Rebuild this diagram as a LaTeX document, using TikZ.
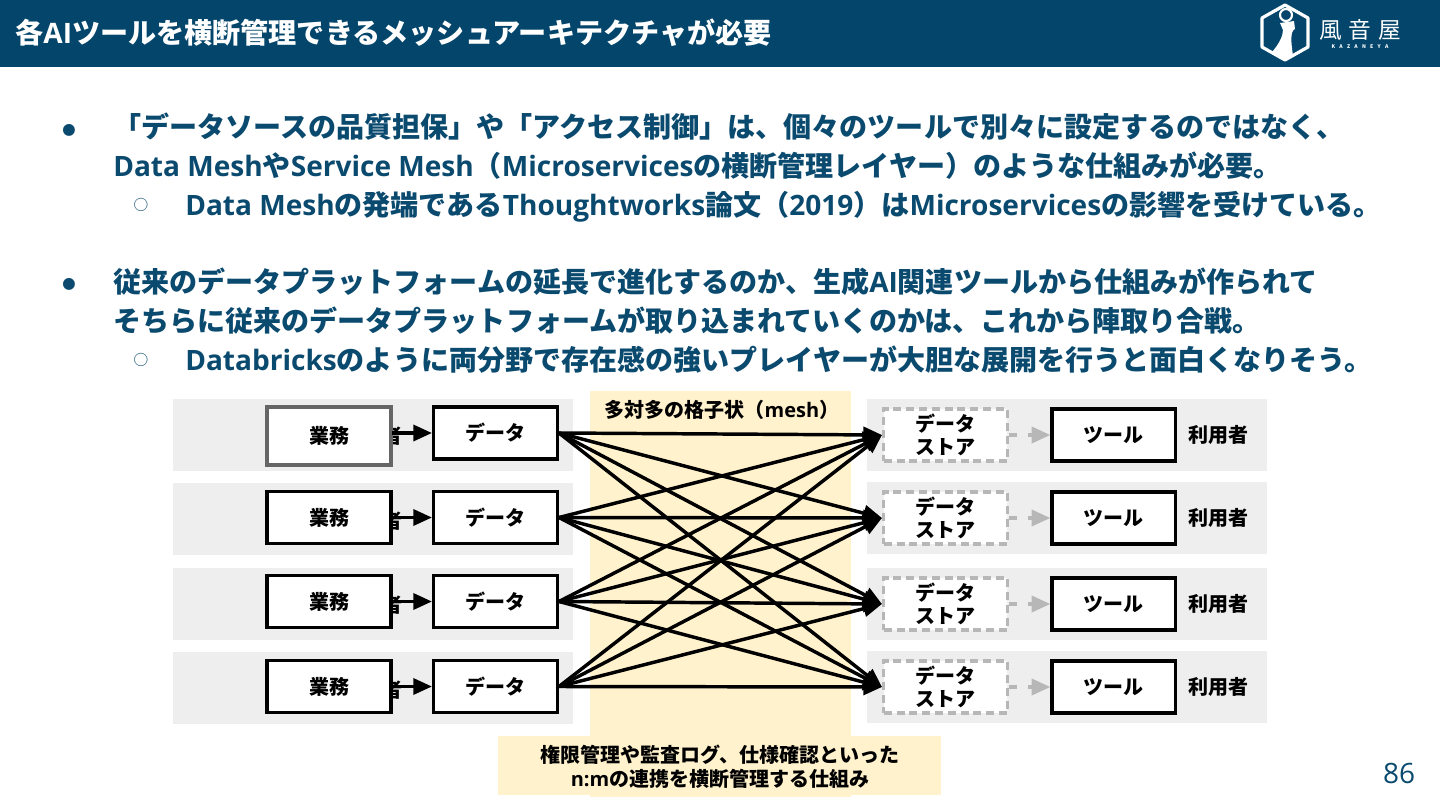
\documentclass[tikz,border=0pt]{standalone}
\usepackage{fontspec}
\setmainfont{Noto Sans CJK JP}
\newfontfamily\latfont{Open Sans}[BoldFont={Open Sans Bold}]
\newcommand{\en}[1]{{\latfont #1}}
\usetikzlibrary{arrows.meta,positioning}
\definecolor{cheader}{HTML}{03456B}
\definecolor{ctext}{HTML}{0B4A6F}
\definecolor{cband}{HTML}{EEEEEE}
\definecolor{cmesh}{HTML}{FFF2CC}
\definecolor{cdash}{HTML}{B7B7B7}
\definecolor{cedge}{HTML}{666666}

\begin{document}
\begin{tikzpicture}[
    x=0.75pt,y=-0.75pt,
    font=\bfseries,
    bodyline/.style={anchor=base west,inner sep=0pt,font=\fontsize{21.04pt}{25pt}\bfseries,text=ctext},
    bandbox/.style={fill=cband,minimum width=300pt,minimum height=54pt,inner sep=0pt},
    flowbox/.style={draw=black,fill=white,line width=2.6pt,minimum width=92.7pt,minimum height=39pt,
        inner sep=0pt,font=\fontsize{15pt}{18pt}\bfseries},
    storebox/.style={flowbox,draw=cdash,dash pattern=on 6pt off 3.6pt,align=center},
    smalltext/.style={font=\fontsize{15pt}{18pt}\bfseries,inner sep=0pt},
    dataarrow/.style={-{Triangle[length=14pt,width=12pt]},line width=2.6pt,black},
    storearrow/.style={-{Triangle[length=14pt,width=12pt]},line width=2.6pt,cdash,dash pattern=on 6pt off 8pt},
]
\useasboundingbox (0,0) rectangle (1440,810);

% ============================================================
% HEADER
% ============================================================
\fill[white] (0,0) rectangle (1440,810);
\node[fill=cheader,minimum width=1080pt,minimum height=50pt,inner sep=0pt,anchor=north west] (header) at (0,0) {};
\node[anchor=west,inner sep=0pt,text=white,font=\fontsize{21.08pt}{25pt}\bfseries] (title) at (15,33)
    {各\en{AI}ツールを横断管理できるメッシュアーキテクチャが必要};

% Logo
\draw[white,line width=2.4pt,line join=round] (1285,5) -- (1308,18) -- (1308,47) -- (1285,60)
    -- (1262,47) -- (1262,18) -- cycle;
\draw[white,line width=1.6pt] (1286,15) circle (6);
\fill[white] (1280,23) -- (1294,21) -- (1295,29) .. controls (1290,31) and (1291,42) .. (1293,56)
    -- (1285,60) -- (1272,52) .. controls (1279,44) and (1283,36) .. (1283,30) -- cycle;
\node[inner sep=0pt,text=white,font=\fontsize{17pt}{20pt}\mdseries] (logotext) at (1360,30)
    {風\hspace{5pt}音\hspace{5pt}屋};
\node[inner sep=0pt,text=white,font=\fontsize{3.8pt}{4pt}\bfseries,below=2.5pt of logotext] (logosub)
    {K\hspace{3.2pt}A\hspace{3.2pt}Z\hspace{3.2pt}A\hspace{3.2pt}N\hspace{3.2pt}E\hspace{3.2pt}Y\hspace{3.2pt}A};

% ============================================================
% BODY TEXT
% ============================================================
\node[inner sep=0pt,text=ctext,font=\fontsize{15pt}{18pt}] (bulleta) at (69,130) {●};
\node[bodyline] (linea) at (113,137) {「データソースの品質担保」や「アクセス制御」は、個々のツールで別々に設定するのではなく、};
\node[bodyline] (lineb) at (113,176) {\en{Data Mesh}や\en{Service Mesh}（\en{Microservices}の横断管理レイヤー）のような仕組みが必要。};
\node[inner sep=0pt,text=ctext,font=\fontsize{11pt}{14pt}\mdseries] (bulletb) at (141,205) {○};
\node[bodyline] (linec) at (185,215) {\en{Data Mesh}の発端である\en{Thoughtworks}論文（\en{2019}）は\en{Microservices}の影響を受けている。};

\node[inner sep=0pt,text=ctext,font=\fontsize{15pt}{18pt}] (bulletc) at (69,284) {●};
\node[bodyline] (lined) at (113,292) {従来のデータプラットフォームの延長で進化するのか、生成\en{AI}関連ツールから仕組みが作られて};
\node[bodyline] (linee) at (113,331) {そちらに従来のデータプラットフォームが取り込まれていくのかは、これから陣取り合戦。};
\node[inner sep=0pt,text=ctext,font=\fontsize{11pt}{14pt}\mdseries] (bulletd) at (141,360) {○};
\node[bodyline] (linef) at (185,370) {\en{Databricks}のように両分野で存在感の強いプレイヤーが大胆な展開を行うと面白くなりそう。};

% ============================================================
% ROW BANDS AND MESH AREA
% ============================================================
\foreach \n/\yl/\yr in {1/435/435,2/519/518,3/604/604,4/688/687} {
    \node[bandbox] (bandl\n) at (373,\yl) {};
    \node[bandbox] (bandr\n) at (1067,\yr) {};
}
\node[fill=cmesh,minimum width=195.75pt,minimum height=304.5pt,inner sep=0pt,anchor=north west] (mesharea) at (590,391) {};
\node[fill=cmesh,minimum width=332.25pt,minimum height=44.25pt,inner sep=0pt,anchor=north west] (meshnote) at (498,736) {};
\node[smalltext] (meshlabel) at (722,410) {多対多の格子状（\en{mesh}）};
\node[smalltext,align=center] (meshtext) at (720,767)
    {権限管理や監査ログ、仕様確認といった\\\en{n:m}の連携を横断管理する仕組み};

% ============================================================
% SOURCE SIDE
% ============================================================
\foreach \n/\y in {1/433,2/518,3/602,4/687} {
    \node[smalltext,anchor=east] (owner\n) at (403,\y+3) {利用者};
}
\node[flowbox,draw=cedge,minimum height=43.5pt] (biz1) at (329,436) {業務};
\node[flowbox] (biz2) at (329,517.5) {業務};
\node[flowbox] (biz3) at (329,601.5) {業務};
\node[flowbox] (biz4) at (329,686.5) {業務};
\foreach \n/\y in {1/433,2/517.5,3/601.5,4/686.5} {
    \node[flowbox] (data\n) at (495.5,\y) {データ};
    \coordinate (from\n) at (392,\y);
    \draw[dataarrow] (from\n) -- (data\n.west);
}

% ============================================================
% TARGET SIDE
% ============================================================
\foreach \n/\y in {1/435,2/518,3/604,4/687} {
    \node[storebox] (store\n) at (945.5,\y) {データ\\[-1pt]ストア};
    \node[flowbox,right=31pt of store\n] (tool\n) {ツール};
    \node[smalltext,right=8.25pt of tool\n] (user\n) {利用者};
    \draw[storearrow] (store\n.east) -- (tool\n.west);
}

% Many-to-many links
\foreach \i in {1,...,4} {
    \foreach \j in {1,...,4} {
        \draw[dataarrow] (data\i.east) -- (store\j.west);
    }
}

% ============================================================
% PAGE NUMBER
% ============================================================
\node[inner sep=0pt,text=ctext,font=\fontsize{21pt}{24pt}\mdseries\latfont] (pagenum) at (1399,773) {86};

\end{tikzpicture}
\end{document}
